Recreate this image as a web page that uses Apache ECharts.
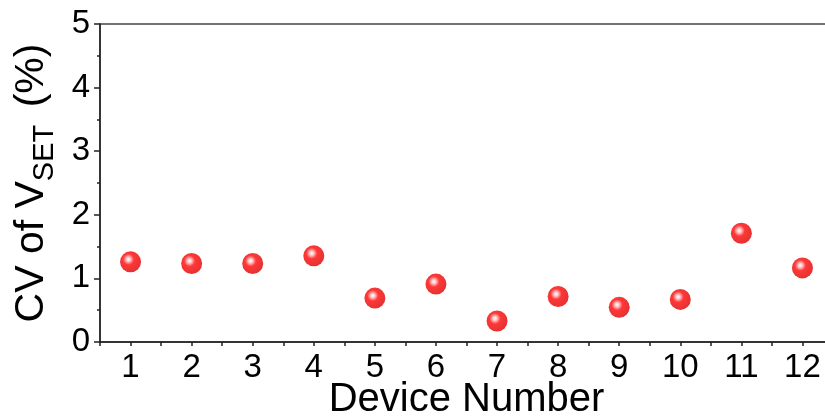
<!DOCTYPE html>
<html>
<head>
<meta charset="utf-8">
<script src="https://cdn.jsdelivr.net/npm/echarts@6/dist/echarts.min.js"></script>
<style>html,body{margin:0;padding:0;background:#fff}#c{width:825px;height:420px}</style>
</head>
<body>
<div id="c"></div>
<script>
var devices = [1,2,3,4,5,6,7,8,9,10,11,12];
var cvValues = [1.26,1.235,1.235,1.355,0.69,0.91,0.33,0.715,0.545,0.67,1.71,1.165];
var yTicks = [0,1,2,3,4,5];

var chart = echarts.init(document.getElementById('c'));
var font = 'Liberation Sans, Arial, sans-serif';
var sphere = {
  type: 'radial', x: 0.4, y: 0.38, r: 0.62,
  colorStops: [
    {offset: 0, color: '#ffffff'},
    {offset: 0.15, color: '#ffc0c0'},
    {offset: 0.42, color: '#ff0505'},
    {offset: 1, color: '#dc0000'}
  ]
};
chart.setOption({
  animation: false,
  grid: {left: 100, right: -8, top: 24, bottom: 78, outerBoundsMode: 'none', containLabel: false,
    show: true, borderColor: '#444', borderWidth: 1.5, backgroundColor: 'transparent'},
  xAxis: {
    type: 'value', min: 0.5, max: 12.5, interval: 0.5,
    name: 'Device Number', nameLocation: 'middle', nameGap: 38, nameMoveOverlap: false,
    nameTextStyle: {fontFamily: font, fontSize: 40, color: '#000', verticalAlign: 'top'},
    axisLine: {show: true, lineStyle: {color: '#222', width: 1.5}},
    axisTick: {show: true, inside: false, length: 4, lineStyle: {color: '#222', width: 1.5}},
    axisLabel: {fontFamily: font, fontSize: 33, color: '#000', margin: 9,
      formatter: function (v) { return devices.indexOf(v) >= 0 ? String(v) : ''; }},
    splitLine: {show: false}
  },
  yAxis: {
    type: 'value', min: 0, max: 5, interval: 1,
    name: '{m|CV of V}{s|SET}{m| (%)}', nameLocation: 'middle', nameGap: 48, nameRotate: 90, nameMoveOverlap: false,
    nameTextStyle: {rich: {
      m: {fontFamily: font, fontSize: 41, color: '#000', verticalAlign: 'bottom'},
      s: {fontFamily: font, fontSize: 29, color: '#000', padding: [0, 6, -7, 0], verticalAlign: 'bottom'}
    }},
    axisLine: {show: true, lineStyle: {color: '#222', width: 1.5}},
    axisTick: {show: true, inside: false, length: 6, lineStyle: {color: '#222', width: 1.5}},
    minorTick: {show: true, splitNumber: 2, length: 3, lineStyle: {color: '#222', width: 1.5}},
    axisLabel: {fontFamily: font, fontSize: 33, color: '#000', margin: 10,
      formatter: function (v) { return yTicks.indexOf(v) >= 0 ? String(v) : ''; }},
    splitLine: {show: false}
  },
  series: [{
    type: 'scatter',
    symbol: 'circle', symbolSize: 21,
    itemStyle: {color: sphere},
    data: devices.map(function (d, i) { return [d, cvValues[i]]; })
  }]
});
</script>
</body>
</html>
